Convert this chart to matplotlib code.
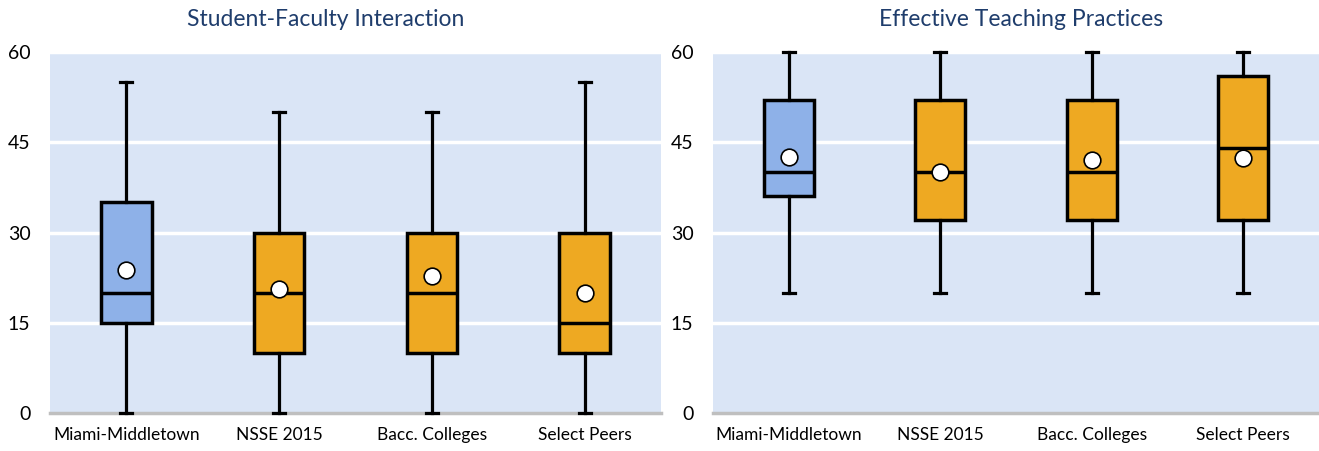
import matplotlib
matplotlib.use("Agg")
import matplotlib.pyplot as plt

# groups
groups = ["Miami-Middletown", "NSSE 2015", "Bacc. Colleges", "Select Peers"]

# Student-Faculty Interaction
sfi_low = [0, 0, 0, 0]
sfi_q1 = [15, 10, 10, 10]
sfi_med = [20, 20, 20, 15]
sfi_q3 = [35, 30, 30, 30]
sfi_high = [55, 50, 50, 55]
sfi_mean = [23.8, 20.6, 22.8, 19.9]

# Effective Teaching Practices
etp_low = [20, 20, 20, 20]
etp_q1 = [36, 32, 32, 32]
etp_med = [40, 40, 40, 44]
etp_q3 = [52, 52, 52, 56]
etp_high = [60, 60, 60, 60]
etp_mean = [42.6, 40.0, 42.0, 42.4]

titles = ["Student-Faculty Interaction", "Effective Teaching Practices"]
yticks = [0, 15, 30, 45, 60]

BLUE = "#8EB1E8"
ORANGE = "#EEA922"
BG = "#DAE5F6"
TITLE_C = "#1F3D6C"

plt.rcParams["font.family"] = ["Lato", "DejaVu Sans"]


def make_stats(low, q1, med, q3, high, mean):
    stats = []
    for i in range(len(groups)):
        stats.append({"whislo": low[i], "q1": q1[i], "med": med[i],
                      "q3": q3[i], "whishi": high[i], "mean": mean[i],
                      "fliers": [], "label": groups[i]})
    return stats


fig = plt.figure(figsize=(13.19, 4.51), dpi=100)
axes = [fig.add_axes([50 / 1319, 1 - 413 / 451, 611 / 1319, 361 / 451]),
        fig.add_axes([713 / 1319, 1 - 413 / 451, 606 / 1319, 361 / 451])]
title_x = [326 / 1319, 1021 / 1319]

data = [make_stats(sfi_low, sfi_q1, sfi_med, sfi_q3, sfi_high, sfi_mean),
        make_stats(etp_low, etp_q1, etp_med, etp_q3, etp_high, etp_mean)]

for ax, stats, title, tx in zip(axes, data, titles, title_x):
    ax.set_facecolor(BG)
    ax.set_xlim(0.5, 4.5)
    ax.set_ylim(0, 60)
    for y in yticks[1:]:
        ax.axhline(y, color="white", lw=2.5, zorder=1)
    bp = ax.bxp(stats, positions=range(1, 5), widths=0.33, showmeans=True,
                patch_artist=True, showfliers=False,
                boxprops=dict(lw=2.5, edgecolor="black"),
                medianprops=dict(color="black", lw=2.5),
                whiskerprops=dict(color="black", lw=2.3),
                capprops=dict(color="black", lw=2.3),
                meanprops=dict(marker="o", markerfacecolor="white",
                               markeredgecolor="black", markersize=12,
                               markeredgewidth=1.2),
                capwidths=0.08, zorder=3)
    for i, box in enumerate(bp["boxes"]):
        box.set_facecolor(BLUE if i == 0 else ORANGE)
    for key in ["whiskers", "caps", "means", "medians", "boxes"]:
        for art in bp[key]:
            art.set_clip_on(False)
    ax.set_yticks(yticks)
    ax.set_xticks(range(1, 5))
    ax.set_xticklabels(groups, fontsize=12.5)
    ax.tick_params(axis="y", labelsize=14, length=0, pad=14)
    ax.tick_params(axis="x", length=0, pad=10)
    for side in ["top", "right", "left"]:
        ax.spines[side].set_visible(False)
    ax.spines["bottom"].set_color("#BFBFBF")
    ax.spines["bottom"].set_linewidth(2.5)
    ax.spines["bottom"].set_zorder(2)
    fig.text(tx, 1 - 20 / 451, title, fontsize=16.5, color=TITLE_C,
             ha="center", va="center")

fig.savefig("out.png", dpi=100)
